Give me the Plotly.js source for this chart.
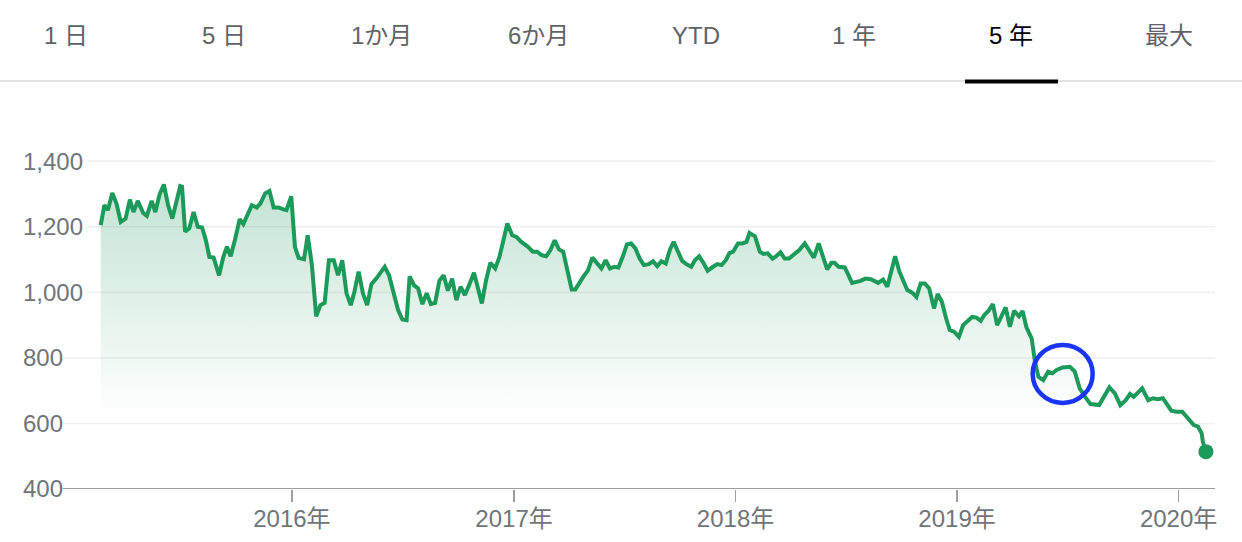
<!DOCTYPE html>
<html>
<head>
<meta charset="utf-8">
<script src="https://cdn.plot.ly/plotly-3.0.1.min.js"></script>
<style>
html,body{margin:0;padding:0;background:#fff;}
#chart{width:1242px;height:542px;}
</style>
</head>
<body>
<div id="chart"></div>
<script>
// ---- data ----
const tabLabels = ["1 日", "5 日", "1か月", "6か月", "YTD", "1 年", "5 年", "最大"];
const activeTab = "5 年";

const dates = [
"2015-02-20","2015-02-26","2015-03-04","2015-03-11","2015-03-18","2015-03-25","2015-04-02","2015-04-09","2015-04-15","2015-04-22",
"2015-05-01","2015-05-07","2015-05-15","2015-05-21","2015-05-28","2015-06-04","2015-06-11","2015-06-18","2015-07-01","2015-07-04",
"2015-07-09","2015-07-16","2015-07-23","2015-07-30","2015-08-06","2015-08-12","2015-08-18","2015-08-25","2015-09-03","2015-09-10",
"2015-09-16","2015-09-22","2015-09-29","2015-10-07","2015-10-13","2015-10-21","2015-10-27","2015-11-04","2015-11-10","2015-11-18",
"2015-11-25","2015-12-02","2015-12-10","2015-12-18","2015-12-23","2015-12-31",
"2016-01-06","2016-01-12","2016-01-21","2016-01-27","2016-02-03","2016-02-10","2016-02-17","2016-02-24","2016-03-02","2016-03-10",
"2016-03-17","2016-03-24","2016-03-31","2016-04-07","2016-04-13","2016-04-20","2016-04-27","2016-05-04","2016-05-11","2016-05-19",
"2016-05-26","2016-06-02","2016-06-09","2016-06-17","2016-06-24","2016-07-01","2016-07-08","2016-07-13","2016-07-20","2016-07-27",
"2016-08-03","2016-08-10","2016-08-17","2016-08-24","2016-08-31","2016-09-07","2016-09-14","2016-09-21","2016-09-28","2016-10-05",
"2016-10-12","2016-10-19","2016-10-27","2016-11-09","2016-11-16","2016-11-23","2016-12-01","2016-12-08","2016-12-21","2016-12-29",
"2017-01-05","2017-01-13","2017-01-24","2017-02-01","2017-02-08","2017-02-16","2017-02-23","2017-03-02","2017-03-09","2017-03-16",
"2017-03-23","2017-04-06","2017-04-12","2017-04-25","2017-05-03","2017-05-10","2017-05-18","2017-05-25","2017-06-01","2017-06-08",
"2017-06-15","2017-06-22","2017-06-30","2017-07-06","2017-07-13","2017-07-20","2017-07-27","2017-08-03","2017-08-11","2017-08-18",
"2017-08-25","2017-09-01","2017-09-08","2017-09-15","2017-09-21","2017-09-29","2017-10-05","2017-10-12","2017-10-20","2017-10-26",
"2017-11-02","2017-11-09","2017-11-16","2017-11-25","2017-12-02","2017-12-09","2017-12-16","2017-12-22","2017-12-28",
"2018-01-05","2018-01-12","2018-01-19","2018-01-24","2018-02-02","2018-02-10","2018-02-16","2018-02-23","2018-03-03","2018-03-09",
"2018-03-16","2018-03-23","2018-03-30","2018-04-07","2018-04-16","2018-04-25","2018-05-03","2018-05-10","2018-05-18","2018-05-25",
"2018-06-01","2018-06-08","2018-06-13","2018-06-20","2018-06-30","2018-07-12","2018-07-19","2018-07-26","2018-08-03","2018-08-12",
"2018-08-24","2018-09-01","2018-09-08","2018-09-21","2018-09-28","2018-10-11","2018-10-19","2018-10-26","2018-11-02","2018-11-09",
"2018-11-16","2018-11-24","2018-11-30","2018-12-07","2018-12-14","2018-12-20","2018-12-27",
"2019-01-04","2019-01-11","2019-01-17","2019-01-26","2019-02-02","2019-02-09","2019-02-15","2019-02-22","2019-03-01","2019-03-08",
"2019-03-15","2019-03-22","2019-03-29","2019-04-05","2019-04-13","2019-04-19","2019-04-25","2019-05-04","2019-05-09","2019-05-15",
"2019-05-23","2019-05-31","2019-06-07","2019-06-14","2019-06-24","2019-07-06","2019-07-14","2019-07-22","2019-07-31","2019-08-09",
"2019-08-23","2019-08-31","2019-09-09","2019-09-18","2019-09-27","2019-10-06","2019-10-13","2019-10-19","2019-11-02","2019-11-12",
"2019-11-20","2019-11-28","2019-12-06","2019-12-20","2019-12-28",
"2020-01-07","2020-01-19","2020-01-26","2020-02-02","2020-02-08","2020-02-10","2020-02-15"
];

const prices = [
1205,1266,1251,1303,1271,1215,1225,1283,1245,1279,
1242,1233,1279,1245,1299,1329,1266,1225,1324,1322,
1185,1195,1245,1200,1198,1161,1108,1106,1052,1108,
1139,1110,1159,1223,1208,1238,1266,1259,1271,1302,
1309,1259,1259,1253,1251,1293,
1139,1105,1101,1174,1083,927,961,968,1098,1098,
1052,1098,997,961,1002,1063,997,961,1025,1042,
1060,1078,1052,992,946,917,915,1049,1022,1012,
964,997,964,968,1035,1052,1005,1042,976,1017,
992,1022,1060,966,1037,1090,1073,1108,1210,1174,
1169,1154,1139,1124,1124,1113,1110,1129,1159,1131,
1124,1009,1009,1047,1068,1106,1090,1073,1098,1073,
1078,1076,1113,1146,1149,1134,1103,1083,1086,1095,
1080,1095,1088,1131,1154,1119,1096,1086,1078,1098,
1110,1090,1066,1078,1086,1083,1098,1120,1124,
1149,1149,1154,1181,1171,1124,1117,1119,1103,1110,
1122,1103,1103,1117,1129,1149,1124,1106,1149,1110,
1070,1090,1090,1078,1076,1029,1032,1035,1042,1040,
1029,1039,1017,1110,1063,1007,999,986,1027,1027,
1012,951,995,971,920,885,880,
864,900,910,925,923,913,931,944,964,900,
927,954,895,944,927,943,895,859,793,742,
732,758,753,763,771,773,758,707,681,659,
656,681,710,692,656,671,690,681,707,671,
677,674,677,639,636,
636,608,595,590,570,544,514
];

const yTickVals = [400, 600, 800, 1000, 1200, 1400];
const xTickVals = ["2016-01-01", "2017-01-01", "2018-01-01", "2019-01-01", "2020-01-01"];
const xTickText = ["2016年", "2017年", "2018年", "2019年", "2020年"];
const highlightDate = "2019-06-24";
const highlightValue = 751;

// ---- layout constants ----
const W = 1242, H = 542;
const M = {l: 20, r: 27, t: 135, b: 53};
const plotW = W - M.l - M.r, plotH = H - M.t - M.b;
const FONT = "'Liberation Sans', Arial, 'Noto Sans CJK JP', sans-serif";
const GREEN = "#1c9a5a";
const GREY_TXT = "#70757a";

const pxX = px => (px - M.l) / plotW;          // page pixel -> paper x
const pxY = py => (H - M.b - py) / plotH;      // page pixel -> paper y

const lastIdx = dates.length - 1;

const traces = [
  {
    x: dates, y: prices, type: "scatter", mode: "lines",
    line: {color: GREEN, width: 4, shape: "linear"},
    fill: "tozeroy",
    fillgradient: {
      type: "vertical",
      start: 620, stop: 1330,
      colorscale: [[0, "rgba(28,154,90,0)"], [1, "rgba(28,154,90,0.27)"]]
    },
    hoverinfo: "skip"
  },
  {
    x: [dates[lastIdx]], y: [prices[lastIdx]], type: "scatter", mode: "markers",
    marker: {color: GREEN, size: 15},
    hoverinfo: "skip"
  }
];

// gridlines starting just after each label
const shapes = yTickVals.map(v => {
  const labelW = v >= 1000 ? 68 : 43;
  return {
    type: "line", layer: "below",
    xref: "paper", xsizemode: "pixel", xanchor: 0, x0: labelW, x1: plotW,
    yref: "y", y0: v, y1: v,
    line: v === 400 ? {color: "#9e9e9e", width: 2} : {color: "#f0f0f0", width: 1.6}
  };
});

// tab separator and active tab underline
shapes.push({
  type: "line", xref: "paper", yref: "paper",
  x0: pxX(0), x1: pxX(W), y0: pxY(81), y1: pxY(81),
  line: {color: "#e3e3e3", width: 2}
});
const tabCenters = tabLabels.map((_, i) => 66 + i * 157.5);
const activeIdx = tabLabels.indexOf(activeTab);
shapes.push({
  type: "line", xref: "paper", yref: "paper",
  x0: pxX(tabCenters[activeIdx] - 46), x1: pxX(tabCenters[activeIdx] + 47),
  y0: pxY(81.5), y1: pxY(81.5),
  line: {color: "#000000", width: 4}
});

// highlight circle
shapes.push({
  type: "circle", xref: "x", yref: "y",
  xsizemode: "pixel", ysizemode: "pixel",
  xanchor: highlightDate, yanchor: highlightValue,
  x0: -30, x1: 30, y0: -29, y1: 29,
  line: {color: "#1a35f5", width: 4.5}
});

const annotations = tabLabels.map((t, i) => ({
  text: t, xref: "paper", yref: "paper",
  x: pxX(tabCenters[i]), y: pxY(35.5),
  xanchor: "center", yanchor: "middle", showarrow: false,
  font: {family: FONT, size: 24, color: t === activeTab ? "#000000" : "#5f6368"}
}));

const layout = {
  width: W, height: H,
  margin: M,
  paper_bgcolor: "#fff", plot_bgcolor: "#fff",
  showlegend: false,
  font: {family: FONT, color: GREY_TXT},
  xaxis: {
    type: "date",
    range: ["2014-10-10", "2020-03-01"],
    tickvals: xTickVals, ticktext: xTickText,
    ticks: "outside", ticklen: 12, tickwidth: 1.5, tickcolor: "#9e9e9e",
    ticklabelstandoff: -4,
    showgrid: false, showline: false, zeroline: false,
    tickfont: {family: FONT, size: 24, color: GREY_TXT},
    fixedrange: true
  },
  yaxis: {
    range: [400, 1480],
    tickvals: yTickVals, tickformat: ",",
    ticklabelposition: "inside",
    ticklabeloverflow: "allow",
    ticklabelstandoff: 0,
    ticks: "", showgrid: false, showline: false, zeroline: false,
    tickfont: {family: FONT, size: 24, color: GREY_TXT},
    fixedrange: true
  },
  shapes: shapes,
  annotations: annotations
};

Plotly.newPlot("chart", traces, layout, {displayModeBar: false, staticPlot: true});
</script>
</body>
</html>
